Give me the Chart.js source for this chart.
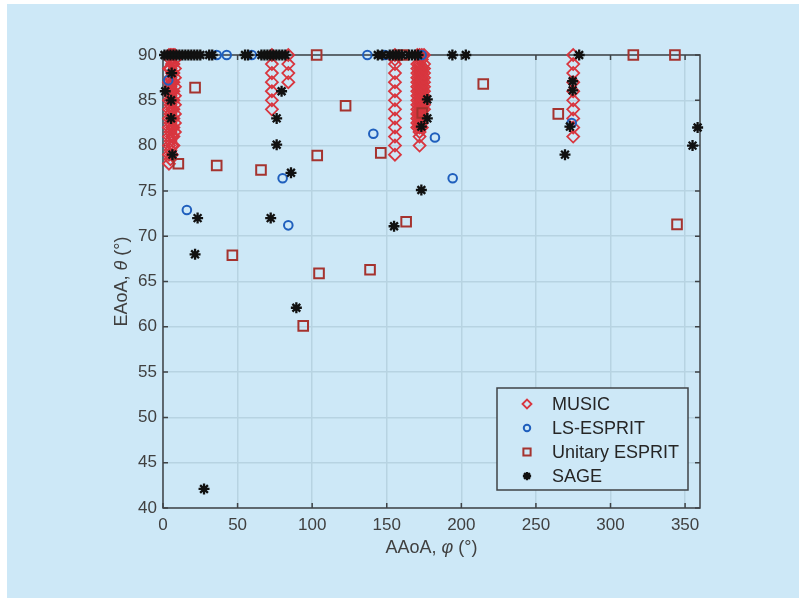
<!DOCTYPE html>
<html>
<head>
<meta charset="utf-8">
<script src="https://cdn.jsdelivr.net/npm/chart.js@4.4.1/dist/chart.umd.min.js"></script>
<style>
    html, body { margin: 0; padding: 0; background: #ffffff; }
    #wrap { position: absolute; left: 7px; top: 4px; width: 792px; height: 594px; background: #cde8f7; }
</style>
</head>
<body>
<div id="wrap"><canvas id="graph" width="792" height="594"></canvas></div>
<script>
// AAoA (phi) and EAoA (theta) estimates, in degrees
const musicPhi = [
    4, 4, 4, 4, 4, 4, 4, 4, 4, 4, 4, 4,
    5, 5, 5, 5, 5, 5, 5, 5, 5, 5, 5, 5, 5,
    6, 6, 6, 6, 6, 6, 6, 6, 6, 6, 6, 6,
    7, 7, 7, 7, 7, 7, 7, 7, 7, 7, 7,
    8, 8, 8, 8, 8, 8, 8, 8, 8, 8,
    73, 73, 73, 73, 73, 73, 73,
    84, 84, 84, 84,
    155.5, 155.5, 155.5, 155.5, 155.5, 155.5, 155.5, 155.5, 155.5, 155.5, 155.5, 155.5, 155.5,
    170.5, 170.5, 170.5, 170.5, 170.5, 170.5, 170.5, 170.5, 170.5, 170.5, 170.5, 170.5, 170.5, 170.5, 170.5, 170.5,
    172, 172, 172, 172, 172, 172, 172, 172, 172, 172, 172, 172, 172, 172, 172, 172, 172, 172, 172,
    173.5, 173.5, 173.5, 173.5, 173.5, 173.5, 173.5, 173.5, 173.5, 173.5, 173.5, 173.5, 173.5, 173.5, 173.5, 173.5,
    175, 175, 175, 175, 175, 175, 175, 175, 175, 175, 175, 175,
    275, 275, 275, 275, 275, 275, 275, 275, 275, 275
];
const musicTheta = [
    78, 79, 80, 81, 82, 83, 84, 85, 86, 87, 88.5, 90,
    78.5, 79.5, 80.5, 81.5, 82.5, 83.5, 84.5, 85.5, 86.5, 87.5, 88.5, 89.5, 90,
    79, 80, 81, 82, 83, 84, 85, 86, 87, 88, 89, 90,
    80, 81, 82, 83, 84, 85, 86, 87, 88, 89, 90,
    81.5, 82.5, 83.5, 84.5, 85.5, 86.5, 87.5, 88.5, 89.5, 90,
    84, 85, 86, 87, 88, 89, 90,
    87, 88, 89, 90,
    79, 80, 81, 82, 83, 84, 85, 86, 87, 88, 89, 89.5, 90,
    82, 82.5, 83, 83.5, 84, 84.5, 85, 85.5, 86, 86.5, 87, 87.5, 88, 88.5, 89, 90,
    80, 81, 81.5, 82, 82.5, 83, 83.5, 84, 84.5, 85, 85.5, 86, 86.5, 87, 87.5, 88, 88.5, 89, 90,
    82, 82.5, 83, 83.5, 84, 84.5, 85, 85.5, 86, 86.5, 87, 87.5, 88, 88.5, 89.5, 90,
    84, 84.5, 85, 85.5, 86, 86.5, 87, 87.5, 88, 88.5, 89, 90,
    81, 82, 83, 84, 85, 86, 87, 88, 89, 90
];

const lsEspritPhi = [3.5, 36, 42.7, 59.5, 80.2, 16, 84, 137, 148.8, 173.4, 141, 182.3, 194.2, 274];
const lsEspritTheta = [87.2, 90, 90, 90, 76.4, 72.9, 71.2, 90, 90, 90, 81.3, 80.9, 76.4, 82.5];

const unitaryPhi = [21.5, 10.3, 36, 65.7, 103.4, 103, 46.5, 104.6, 94, 122.4, 146, 173.8, 214.7, 161, 265, 315.3, 343.2, 344.6, 163, 138.8];
const unitaryTheta = [86.4, 78, 77.8, 77.3, 78.9, 90, 67.9, 65.9, 60.1, 84.4, 79.2, 83.6, 86.8, 90, 83.5, 90, 90, 71.3, 71.6, 66.3];

const sagePhi = [
    1, 3, 5, 7, 9, 11, 13, 15, 17, 19, 21, 23, 25, 31, 33, 55, 57,
    66, 68, 70, 72, 74, 76, 78, 80, 82,
    144, 147, 152, 154, 156, 158, 160, 165, 167, 169, 171, 194, 203, 279,
    1.5, 5.8, 5.4, 5.4, 6.3, 79.5, 76.2, 76.2, 85.8, 23.2, 21.5, 72.2, 89.4, 27.5,
    177.2, 177.2, 173.2, 173.2, 154.9, 274.6, 274.6, 272.8, 269.5, 358.4, 355
];
const sageTheta = [
    90, 90, 90, 90, 90, 90, 90, 90, 90, 90, 90, 90, 90, 90, 90, 90, 90,
    90, 90, 90, 90, 90, 90, 90, 90, 90,
    90, 90, 90, 90, 90, 90, 90, 90, 90, 90, 90, 90, 90, 90,
    86, 88, 85, 83, 79, 86, 83, 80.1, 77, 72, 68, 72, 62.1, 42.1,
    85.1, 83, 82.1, 75.1, 71.1, 87.1, 86.1, 82.1, 79, 82, 80
];

const seriesNames = ['MUSIC', 'LS-ESPRIT', 'Unitary ESPRIT', 'SAGE'];
const xTicks = [0, 50, 100, 150, 200, 250, 300, 350];
const yTicks = [40, 45, 50, 55, 60, 65, 70, 75, 80, 85, 90];

const FONT = "'Liberation Sans', Arial, Helvetica, sans-serif";
const AXIS_COLOR = '#3f4347';
const TEXT_COLOR = '#404040';

function toPoints(xs, ys) {
    return xs.map((x, i) => ({ x: x, y: ys[i] }));
}

const data = {
    datasets: [
        {
            label: seriesNames[0],
            data: toPoints(musicPhi, musicTheta),
            pointStyle: 'rectRot',
            pointRadius: 6,
            borderColor: '#d8363f',
            backgroundColor: 'rgba(0,0,0,0)',
            pointBorderWidth: 1.8,
            order: 4
        },
        {
            label: seriesNames[1],
            data: toPoints(lsEspritPhi, lsEspritTheta),
            pointStyle: 'circle',
            pointRadius: 4.3,
            borderColor: '#1f5fbd',
            backgroundColor: 'rgba(0,0,0,0)',
            pointBorderWidth: 2,
            order: 3
        },
        {
            label: seriesNames[2],
            data: toPoints(unitaryPhi, unitaryTheta),
            pointStyle: 'rect',
            pointRadius: 6.8,
            borderColor: '#a5332f',
            backgroundColor: 'rgba(0,0,0,0)',
            pointBorderWidth: 2,
            order: 2
        },
        {
            label: seriesNames[3],
            data: toPoints(sagePhi, sageTheta),
            pointStyle: 'star',
            pointRadius: 5.5,
            borderColor: '#111111',
            backgroundColor: '#111111',
            pointBorderWidth: 2.3,
            order: 1
        }
    ]
};
data.datasets.forEach(ds => { ds.clip = false; ds.pointHoverRadius = ds.pointRadius; });

// box round the axes, with inward ticks on all four sides
const frame = {
    id: 'frame',
    beforeDatasetsDraw(chart) {
        const ctx = chart.ctx;
        const a = chart.chartArea;
        const xs = chart.scales.x, ys = chart.scales.y;
        ctx.save();
        ctx.strokeStyle = AXIS_COLOR;
        ctx.lineWidth = 1.5;
        ctx.strokeRect(a.left, a.top, a.right - a.left, a.bottom - a.top);
        ctx.beginPath();
        xTicks.forEach(v => {
            const px = xs.getPixelForValue(v);
            ctx.moveTo(px, a.bottom); ctx.lineTo(px, a.bottom - 5);
            ctx.moveTo(px, a.top); ctx.lineTo(px, a.top + 5);
        });
        yTicks.forEach(v => {
            const py = ys.getPixelForValue(v);
            ctx.moveTo(a.left, py); ctx.lineTo(a.left + 5, py);
            ctx.moveTo(a.right, py); ctx.lineTo(a.right - 5, py);
        });
        ctx.stroke();
        ctx.restore();
    }
};

// draws text made of plain and italic pieces, centred on (x, y)
function drawMixed(ctx, parts, x, y, size) {
    const fonts = parts.map(p => (p[1] ? 'italic ' : '') + size + 'px ' + FONT);
    let total = 0;
    const widths = parts.map((p, i) => { ctx.font = fonts[i]; const w = ctx.measureText(p[0]).width; total += w; return w; });
    let cx = x - total / 2;
    ctx.textBaseline = 'middle';
    ctx.textAlign = 'left';
    parts.forEach((p, i) => {
        ctx.font = fonts[i];
        ctx.fillText(p[0], cx, y);
        cx += widths[i];
    });
}

const titlesAndLegend = {
    id: 'titlesAndLegend',
    afterDraw(chart) {
        const ctx = chart.ctx;
        const a = chart.chartArea;
        ctx.save();
        ctx.fillStyle = TEXT_COLOR;
        drawMixed(ctx, [['AAoA, ', false], ['\u03C6', true], [' (\u00B0)', false]], (a.left + a.right) / 2, a.bottom + 40, 18);
        ctx.translate(a.left - 41, (a.top + a.bottom) / 2);
        ctx.rotate(-Math.PI / 2);
        drawMixed(ctx, [['EAoA, ', false], ['\u03B8', true], [' (\u00B0)', false]], 0, 0, 18);
        ctx.restore();

        // legend box
        const bx = a.right - 203, by = a.bottom - 120, bw = 191, bh = 102;
        ctx.save();
        ctx.fillStyle = '#cde8f7';
        ctx.fillRect(bx, by, bw, bh);
        ctx.strokeStyle = AXIS_COLOR;
        ctx.lineWidth = 1.5;
        ctx.strokeRect(bx, by, bw, bh);
        chart.data.datasets.forEach((ds, i) => {
            const ry = by + 16 + i * 24;
            ctx.strokeStyle = ds.borderColor;
            ctx.fillStyle = ds.backgroundColor;
            ctx.lineWidth = ds.pointBorderWidth;
            Chart.helpers.drawPoint(ctx, { pointStyle: ds.pointStyle, radius: ds.pointRadius * 0.75, rotation: 0, borderWidth: ds.pointBorderWidth }, bx + 30, ry);
            ctx.fillStyle = '#262626';
            ctx.font = '18px ' + FONT;
            ctx.textAlign = 'left';
            ctx.textBaseline = 'middle';
            ctx.fillText(ds.label, bx + 55, ry + 1);
        });
        ctx.restore();
    }
};

new Chart(document.querySelector('#graph'), {
    type: 'scatter',
    data: data,
    options: {
        responsive: false,
        animation: false,
        events: [],
        layout: { padding: { top: 51, right: 99, bottom: 0, left: 0 } },
        plugins: {
            legend: { display: false },
            title: { display: false },
            tooltip: { enabled: false }
        },
        scales: {
            x: {
                type: 'linear',
                min: 0,
                max: 360,
                afterFit(scale) { scale.height = 90; },
                afterBuildTicks(scale) { scale.ticks = xTicks.map(v => ({ value: v })); },
                grid: { color: '#b7d3e2', lineWidth: 1.5, drawTicks: false },
                border: { display: false },
                ticks: { color: TEXT_COLOR, font: { family: FONT, size: 17 }, padding: 7, maxRotation: 0 }
            },
            y: {
                type: 'linear',
                min: 40,
                max: 90,
                afterFit(scale) { scale.width = 156; },
                afterBuildTicks(scale) { scale.ticks = yTicks.map(v => ({ value: v })); },
                grid: { color: '#b7d3e2', lineWidth: 1.5, drawTicks: false },
                border: { display: false },
                ticks: { color: TEXT_COLOR, font: { family: FONT, size: 17 }, padding: 6 }
            }
        }
    },
    plugins: [frame, titlesAndLegend]
});
</script>
</body>
</html>
